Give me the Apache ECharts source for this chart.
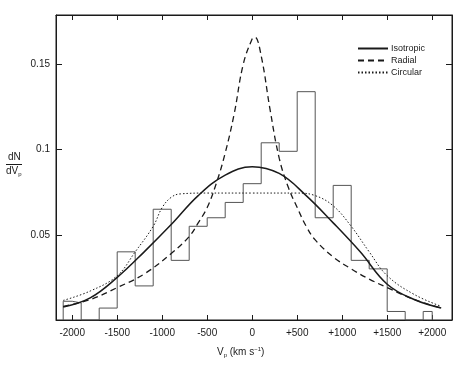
<!DOCTYPE html>
<html>
<head>
<meta charset="utf-8">
<script src="https://cdn.jsdelivr.net/npm/echarts@6/dist/echarts.min.js"></script>
<style>
  html, body { margin: 0; padding: 0; background: #fff; }
  #chart { width: 463px; height: 371px; }
</style>
</head>
<body>
<div id="chart"></div>
<script>
// histogram (bin edges in km/s, heights in dN/dVp)
const binEdges = [-2100, -2000, -1900, -1700, -1500, -1300, -1100, -900, -700, -500, -300, -100,
  100, 300, 500, 700, 900, 1100, 1300, 1500, 1700, 1900, 2000];
const binHeights = [0.011, 0.010, 0, 0.007, 0.040, 0.020, 0.065, 0.035, 0.055, 0.060, 0.069,
  0.080, 0.104, 0.099, 0.134, 0.060, 0.079, 0.035, 0.030, 0.005, 0, 0.005];

// model curves
const isoV = [-2100, -1800, -1500, -1200, -900, -600, -300, 0, 300, 600, 900, 1200, 1500, 1800, 2100];
const isoN = [0.0076, 0.013, 0.025, 0.040, 0.056, 0.073, 0.085, 0.090, 0.086, 0.073, 0.057, 0.040, 0.021, 0.012, 0.007];

const radV = [-2100, -1800, -1500, -1200, -900, -700, -600, -500, -400, -300, -200, -100, 0, 30, 100, 200, 300, 400, 500, 600, 700, 900, 1100, 1300, 1500, 1800, 2100];
const radN = [0.008, 0.012, 0.019, 0.027, 0.039, 0.049, 0.057, 0.066, 0.080, 0.098, 0.121, 0.150, 0.165, 0.166, 0.155, 0.123, 0.095, 0.078, 0.066, 0.055, 0.047, 0.037, 0.030, 0.024, 0.019, 0.012, 0.007];

const cirV = [-2100, -1800, -1500, -1300, -1100, -1000, -900, -800, -500, 0, 500, 700, 900, 1100, 1300, 1500, 1800, 2100];
const cirN = [0.0115, 0.017, 0.026, 0.040, 0.055, 0.066, 0.072, 0.074, 0.0745, 0.0745, 0.0745, 0.073, 0.067, 0.055, 0.040, 0.026, 0.015, 0.008];

const xTicks = [-2000, -1500, -1000, -500, 0, 500, 1000, 1500, 2000];
const yTicks = [0.05, 0.1, 0.15];

const zip = (xs, ys) => xs.map((x, i) => [x, ys[i]]);

// step outline of the histogram
const histData = [[binEdges[0], 0]];
binHeights.forEach((h, i) => histData.push([binEdges[i], h]));
histData.push([binEdges[binEdges.length - 1], binHeights[binHeights.length - 1]]);
histData.push([binEdges[binEdges.length - 1], 0]);

const font = "Liberation Sans";
const ink = "#1a1a1a";

const frameAxis = {
  axisLine: { show: true, onZero: false, lineStyle: { color: ink } },
  splitLine: { show: false },
};

const chart = echarts.init(document.getElementById("chart"));
chart.setOption({
  backgroundColor: "#fff",
  animation: false,
  grid: { left: 56, right: 11, top: 15, bottom: 51, show: true, borderColor: ink, borderWidth: 1 },
  legend: {
    data: ["Isotropic", "Radial", "Circular"],
    orient: "vertical",
    left: 352,
    top: 39,
    itemWidth: 30,
    itemHeight: 8,
    itemGap: 3,
    itemStyle: { opacity: 0 },
    textStyle: { fontFamily: font, fontSize: 9, color: ink, padding: [0, 0, 0, -2] },
  },
  xAxis: [
    {
      ...frameAxis,
      type: "value",
      min: -2180,
      max: 2220,
      splitNumber: 8,
      axisTick: { inside: true, length: 5, lineStyle: { color: ink } },
      axisLabel: {
        fontFamily: font,
        fontSize: 10,
        color: ink,
        margin: 8,
        formatter: (v) => (xTicks.includes(v) ? (v > 0 ? "+" + v : String(v)) : ""),
      },
    },
    {
      ...frameAxis,
      type: "value",
      position: "top",
      min: -2180,
      max: 2220,
      splitNumber: 8,
      axisTick: { inside: true, length: 5, lineStyle: { color: ink } },
      axisLabel: { show: false },
    },
  ],
  yAxis: [
    {
      ...frameAxis,
      type: "value",
      min: 0,
      max: 0.179,
      interval: 0.05,
      axisTick: { show: true, inside: true, length: 6, lineStyle: { color: ink } },
      axisLabel: {
        fontFamily: font,
        fontSize: 10,
        color: ink,
        margin: 6,
        formatter: (v) => {
          const r = Math.round(v * 100) / 100;
          return yTicks.includes(r) && Math.abs(r - v) < 1e-6 ? String(r) : "";
        },
      },
    },
    {
      ...frameAxis,
      type: "value",
      position: "right",
      min: 0,
      max: 0.179,
      interval: 0.05,
      axisTick: { show: true, inside: true, length: 6, lineStyle: { color: ink } },
      axisLabel: { show: false },
    },
  ],
  graphic: [
    { type: "text", left: 8, top: 152, style: { text: "dN", font: "10px " + font, fill: ink } },
    { type: "line", shape: { x1: 6, y1: 164.5, x2: 22, y2: 164.5 }, style: { stroke: ink, lineWidth: 1 } },
    {
      type: "text", left: 6, top: 166,
      style: {
        text: "{a|dV}{s|p}",
        rich: {
          a: { fontFamily: font, fontSize: 10, fill: ink },
          s: { fontFamily: font, fontSize: 6, fill: ink, padding: [6, 0, 0, 0] },
        },
      },
    },
    {
      type: "text", left: 217, top: 346,
      style: {
        text: "{a|V}{s|p}{a| (km s}{u|−1}{a|)}",
        rich: {
          a: { fontFamily: font, fontSize: 10, fill: ink },
          s: { fontFamily: font, fontSize: 6, fill: ink, padding: [6, 0, 0, 0] },
          u: { fontFamily: font, fontSize: 6, fill: ink, padding: [0, 0, 6, 0] },
        },
      },
    },
  ],
  series: [
    {
      name: "hist",
      type: "line",
      step: "end",
      data: histData,
      symbol: "none",
      silent: true,
      lineStyle: { color: "#555", width: 1 },
      z: 1,
    },
    {
      name: "Isotropic",
      type: "line",
      smooth: 0.4,
      data: zip(isoV, isoN),
      symbol: "none",
      itemStyle: { color: ink },
      lineStyle: { color: ink, width: 1.5 },
      z: 3,
    },
    {
      name: "Radial",
      type: "line",
      smooth: 0.4,
      data: zip(radV, radN),
      symbol: "none",
      itemStyle: { color: ink },
      lineStyle: { color: ink, width: 1.3, type: [6, 4] },
      z: 3,
    },
    {
      name: "Circular",
      type: "line",
      smooth: 0.4,
      data: zip(cirV, cirN),
      symbol: "none",
      itemStyle: { color: ink },
      lineStyle: { color: ink, width: 1, type: [1.5, 2] },
      z: 3,
    },
  ],
});
</script>
</body>
</html>
